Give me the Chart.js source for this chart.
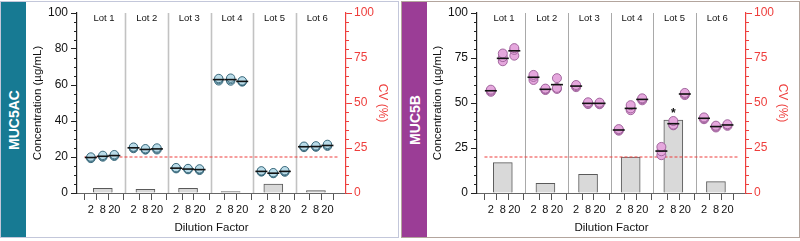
<!DOCTYPE html>
<html>
<head>
<meta charset="utf-8">
<script src="https://cdn.jsdelivr.net/npm/chart.js@4/dist/chart.umd.min.js"></script>
<style>
  html, body { margin: 0; padding: 0; background: #fff; }
  body { width: 800px; height: 241px; position: relative; overflow: hidden; }
  .panel { position: absolute; top: 1px; height: 237px; box-sizing: border-box; }
  #p1 { left: 0px; width: 399px; border: 1.5px solid #c3c7da; }
  #p2 { left: 401px; width: 399px; border: 1.5px solid #b3a59d; }
  .strip { position: absolute; top: 0; bottom: 0; width: 25px; }
  #s1 { left: 0; background: #177a93; }
  #s2 { left: 0; background: #9b3d96; }
  .strip span { position: absolute; left: 50%; top: 50%; transform: translate(-50%, -50%) rotate(-90deg);
    color: #fff; font: bold 14px 'Liberation Sans', Arial, sans-serif; white-space: nowrap; }
  .wrap { position: absolute; top: 0; width: 372px; height: 238px; }
  .wrap canvas { position: absolute; left: 0; top: 0; }
</style>
</head>
<body>
<div class="panel" id="p1"><div class="strip" id="s1"><span>MUC5AC</span></div></div>
<div class="panel" id="p2"><div class="strip" id="s2"><span>MUC5B</span></div></div>
<div class="wrap" style="left:26px"><canvas id="c1"></canvas></div>
<div class="wrap" style="left:426px"><canvas id="c2"></canvas></div>
<script>
// ---------- DATA ----------
const lots = ['Lot 1', 'Lot 2', 'Lot 3', 'Lot 4', 'Lot 5', 'Lot 6'];
const dilutions = ['2', '8', '20'];
const cvThreshold = 20;

// MUC5AC: replicates [lot][dilution][rep]
const muc5acReplicates = [
  [[19.2, 19.6, 20.0], [20.0, 20.4, 20.9], [20.4, 20.8, 21.3]],
  [[24.7, 25.1, 25.5], [23.9, 24.2, 24.6], [24.0, 24.5, 25.0]],
  [[13.5, 13.8, 14.1], [13.0, 13.3, 13.6], [12.6, 13.0, 13.4]],
  [[62.3, 63.0, 63.6], [62.2, 63.0, 63.8], [61.7, 62.0, 62.3]],
  [[11.7, 12.0, 12.3], [10.8, 11.0, 11.3], [11.6, 12.0, 12.4]],
  [[25.3, 25.7, 26.0], [25.5, 25.8, 26.2], [26.0, 26.4, 27.0]]
];
const muc5acMeans = [
  [19.7, 20.4, 20.8], [25.1, 24.2, 24.5], [13.8, 13.3, 13.0],
  [63.0, 63.0, 62.0], [12.0, 11.0, 12.0], [25.7, 25.8, 26.4]
];
const muc5acCV = [2.6, 2.0, 2.6, 0.8, 5.0, 1.3];
const muc5acTicks = [0, 20, 40, 60, 80, 100];

// MUC5B
const muc5bReplicates = [
  [[56.2, 56.8, 57.4], [73.2, 75.5, 77.5], [76.3, 79.5, 80.5]],
  [[62.8, 64.5, 65.6], [57.2, 57.6, 58.0], [57.8, 58.4, 63.8]],
  [[58.8, 59.4, 60.0], [49.4, 49.8, 50.4], [49.3, 49.7, 50.2]],
  [[34.6, 35.0, 35.5], [46.0, 47.0, 48.8], [51.5, 52.1, 52.6]],
  [[21.0, 23.2, 25.6], [37.6, 38.0, 40.0], [54.4, 55.0, 55.6]],
  [[41.0, 41.5, 42.0], [36.4, 36.9, 37.4], [37.3, 37.8, 38.2]]
];
const muc5bMeans = [
  [56.8, 74.8, 79.0], [64.3, 57.6, 60.2], [59.4, 49.8, 49.8],
  [35.0, 47.0, 52.0], [23.3, 38.5, 55.0], [41.5, 36.9, 37.8]
];
const muc5bCV = [16.9, 5.4, 10.4, 20.0, 40.5, 6.3];
const muc5bTicks = [0, 25, 50, 75, 100];
const muc5bSignificant = [[4, 1]]; // [lot index, dilution index] marked with *

const cvTicks = [0, 25, 50, 75, 100];

// ---------- LAYOUT / STYLE ----------
const FONT = "'Liberation Sans', Arial, sans-serif";
const RED = '#ee3e3c';
const OFFS = [0.19, 0.47, 0.74];
const X_MIN = 0.04, X_MAX = 6;

function build(canvasId, o) {
  const repPts = [], meanPts = [], barPts = [];
  o.rep.forEach((lot, li) => lot.forEach((d, di) => d.forEach(v => repPts.push({x: li + OFFS[di], y: v}))));
  o.mean.forEach((lot, li) => lot.forEach((v, di) => meanPts.push({x: li + OFFS[di], y: v})));
  o.cv.forEach((v, li) => barPts.push({x: li + OFFS[1], y: v}));
  const tickPos = [];
  lots.forEach((l, li) => OFFS.forEach(f => tickPos.push(li + f)));

  const deco = {
    id: 'deco',
    beforeDatasetsDraw(chart) {
      const ctx = chart.ctx, a = chart.chartArea, xs = chart.scales.x;
      ctx.save();
      ctx.strokeStyle = o.sepColor; ctx.lineWidth = o.sepWidth;
      for (let i = 1; i < lots.length; i++) {
        const px = Math.round(xs.getPixelForValue(i)) + 0.5;
        ctx.beginPath(); ctx.moveTo(px, a.top); ctx.lineTo(px, a.bottom); ctx.stroke();
      }
      ctx.fillStyle = '#111'; ctx.font = '9.5px ' + FONT; ctx.textAlign = 'center'; ctx.textBaseline = 'middle';
      lots.forEach((l, i) => ctx.fillText(l, xs.getPixelForValue(i + 0.5), a.top + 5));
      ctx.restore();
    },
    afterDraw(chart) {
      const ctx = chart.ctx, ys = chart.scales.y, cs = chart.scales.cv, xs = chart.scales.x;
      ctx.save();
      ctx.lineWidth = 1;
      for (let v = 0; v <= 100; v += 5) {
        if (!o.yTicks.includes(v)) {
          const py = Math.round(ys.getPixelForValue(v)) + 0.5;
          ctx.strokeStyle = '#222';
          ctx.beginPath(); ctx.moveTo(ys.right - 3, py); ctx.lineTo(ys.right, py); ctx.stroke();
        }
        if (!cvTicks.includes(v)) {
          const py = Math.round(cs.getPixelForValue(v)) + 0.5;
          ctx.strokeStyle = RED;
          ctx.beginPath(); ctx.moveTo(cs.left, py); ctx.lineTo(cs.left + 3, py); ctx.stroke();
        }
      }
      (o.sig || []).forEach(([li, di]) => {
        const top = Math.max(...o.rep[li][di]);
        ctx.fillStyle = '#111'; ctx.font = 'bold 12px ' + FONT; ctx.textAlign = 'center'; ctx.textBaseline = 'middle';
        ctx.fillText('*', xs.getPixelForValue(li + OFFS[di]), ys.getPixelForValue(top) - 7);
      });
      ctx.restore();
    }
  };

  return new Chart(document.getElementById(canvasId), {
    data: {
      datasets: [
        { type: 'bar', label: 'CV', data: barPts, yAxisID: 'cv', xAxisID: 'x', barThickness: 19,
          backgroundColor: '#d9d9d9', borderColor: '#5a5a5a', borderWidth: 1, order: 4 },
        { type: 'line', label: 'threshold', data: [{x: X_MIN, y: cvThreshold}, {x: X_MAX, y: cvThreshold}], yAxisID: 'cv',
          borderColor: RED, borderWidth: 1.2, borderDash: [3, 2], pointRadius: 0, order: 3 },
        { type: 'scatter', label: 'replicates', data: repPts, yAxisID: 'y', pointRadius: o.r,
          backgroundColor: o.fill, borderColor: o.stroke, borderWidth: 0.9, order: 2 },
        { type: 'scatter', label: 'mean', data: meanPts, yAxisID: 'y', pointStyle: 'line', pointRadius: 6,
          borderColor: '#111', borderWidth: 1.6, order: 1 }
      ]
    },
    options: {
      responsive: false, animation: false, events: [],
      devicePixelRatio: 1,
      layout: { padding: { top: 13, left: 0, right: 0, bottom: 0 } },
      plugins: { legend: { display: false }, tooltip: { enabled: false } },
      scales: {
        x: {
          type: 'linear', position: 'bottom', min: X_MIN, max: X_MAX,
          afterBuildTicks: s => { s.ticks = tickPos.map(v => ({value: v})); },
          afterFit: s => { s.height = 45; },
          ticks: { autoSkip: false, maxRotation: 0, padding: 3, color: '#111', font: { size: 11, family: FONT },
                   callback: (v, i) => dilutions[i % 3] },
          grid: { display: true, drawOnChartArea: false, drawTicks: true, tickLength: 7, color: '#555', lineWidth: 1 },
          border: { display: true, color: '#666', width: 1 },
          title: { display: true, text: 'Dilution Factor', color: '#111', font: { size: 11.5, family: FONT }, padding: { top: 0, bottom: 3 } }
        },
        y: {
          type: 'linear', position: 'left', min: 0, max: 100,
          afterBuildTicks: s => { s.ticks = o.yTicks.map(v => ({value: v})); },
          afterFit: s => { s.width = 51; },
          ticks: { padding: 3, color: '#111', font: { size: 12, family: FONT } },
          grid: { display: true, drawOnChartArea: false, drawTicks: true, tickLength: 6, color: '#222', lineWidth: 1 },
          border: { display: true, color: '#222', width: 1.2 },
          title: { display: true, text: 'Concentration (µg/mL)', color: '#111', font: { size: 11.5, family: FONT }, padding: { top: 5, bottom: 0 } }
        },
        cv: {
          type: 'linear', position: 'right', min: 0, max: 100,
          afterBuildTicks: s => { s.ticks = cvTicks.map(v => ({value: v})); },
          afterFit: s => { s.width = 52; },
          ticks: { padding: 2, color: RED, font: { size: 12, family: FONT } },
          grid: { display: true, drawOnChartArea: false, drawTicks: true, tickLength: 6, color: RED, lineWidth: 1 },
          border: { display: true, color: RED, width: 1.2 },
          title: { display: true, text: 'CV (%)', color: RED, font: { size: 12, family: FONT }, padding: { top: 8, bottom: 0 } }
        }
      }
    },
    plugins: [deco]
  });
}

const cv1 = document.getElementById('c1'); cv1.width = 372; cv1.height = 238;
const cv2 = document.getElementById('c2'); cv2.width = 372; cv2.height = 238;

build('c1', { rep: muc5acReplicates, mean: muc5acMeans, cv: muc5acCV, yTicks: muc5acTicks,
  fill: '#b9dbe8', stroke: '#2f5f72', r: 4.2, sepColor: '#c2c2c2', sepWidth: 1.6 });
build('c2', { rep: muc5bReplicates, mean: muc5bMeans, cv: muc5bCV, yTicks: muc5bTicks, sig: muc5bSignificant,
  fill: '#e5a7dd', stroke: '#9a5c96', r: 4.5, sepColor: '#a9a9a9', sepWidth: 1 });
</script>
</body>
</html>
